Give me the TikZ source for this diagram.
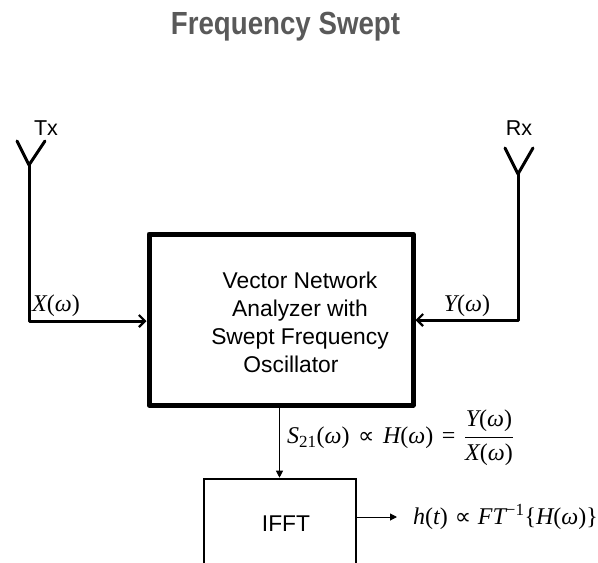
\documentclass[tikz,border=0pt]{standalone}
\usepackage{fontspec}
\usepackage{graphicx}
\setmainfont{Liberation Sans}
\newfontfamily\eqit{Liberation Serif}[UprightFont=*,ItalicFont=* Italic]
\newcommand{\mv}[1]{\mbox{\eqit\itshape #1}}
\newcommand{\mr}[1]{\mbox{\eqit #1}}
\newfontfamily\eqsym{DejaVu Sans}
\newcommand{\om}{\mv{ω}}
\newcommand{\prp}{\mathrel{\mbox{\eqsym\scalebox{0.95}{∝}}}}
\newcommand{\smalleq}[1]{\mbox{\fontsize{17}{17}\eqit #1}}
\definecolor{titlegray}{HTML}{595959}
\usetikzlibrary{arrows.meta}
\tikzset{
  wire/.style={line width=3pt,line cap=round,line join=round},
  inwire/.style={wire,-{Straight Barb[length=6pt,width=12pt,line width=2.2pt]}},
  thinarrow/.style={line width=1pt,-{Triangle[length=7pt,width=7pt]}},
  vna/.style={draw,line width=5pt,line join=round,minimum width=264pt,minimum height=171pt,inner sep=0pt},
  ifftbox/.style={draw,line width=2.6pt,minimum width=152pt,minimum height=120pt,inner sep=0pt},
  label/.style={inner sep=0pt,font=\fontsize{22.8}{28}\selectfont},
  smalllabel/.style={inner sep=0pt,font=\fontsize{21.5}{24}\selectfont},
  mathlabel/.style={inner sep=0pt,font=\fontsize{24}{28}\selectfont}
}
\begin{document}
\begin{tikzpicture}[x=1pt,y=-1pt]
\useasboundingbox (0,0) rectangle (598,563);
\clip (0,0) rectangle (598,563);
\node[inner sep=0pt,text=titlegray] (title) at (285.5,27) {\scalebox{0.865}[1]{\fontsize{32}{38}\selectfont\bfseries Frequency Swept}};
\node[vna] (box) at (281,319.5) {};
\node[ifftbox] (ifft) at (280,539) {};
\coordinate (txbase) at (29,165);
\coordinate (txl) at (17,141);
\coordinate (txr) at (45,141);
\coordinate (txcorner) at (29,321);
\coordinate (rxbase) at (518,174);
\coordinate (rxl) at (505,148);
\coordinate (rxr) at (533,148);
\coordinate (rxcorner) at (518,320);
\draw[wire] (txl) -- (txbase) -- (txr);
\draw[wire] (rxl) -- (rxbase) -- (rxr);
\draw[inwire] (txbase) -- (txcorner) -- (box.west |- txcorner);
\draw[inwire] (rxbase) -- (rxcorner) -- (box.east |- rxcorner);
\node[smalllabel] (tx) at (46,128) {Tx};
\node[smalllabel] (rx) at (519,128) {Rx};
\node[mathlabel] (xw) at (56,306) {$\mv{X}\mr{(}\om\mr{)}$};
\node[mathlabel] (yw) at (467,306) {$\mv{Y}\mr{(}\om\mr{)}$};
\node[label,align=center] (vnatext) at (300,322) {Vector Network\\Analyzer with\\Swept Frequency\\\hspace*{-18pt}Oscillator};
\node[label] (iffttext) at (286,524) {IFFT};
\coordinate (sout) at (279.5,405);
\draw[thinarrow] (sout) -- (sout |- ifft.north);
\node[mathlabel,anchor=west] (sf) at (287,438) {$\mv{S}_{\smalleq{21}}\mr{(}\om\mr{)}\mkern1.2mu\prp\mkern1.2mu\mv{H}\mr{(}\om\mr{)}\mkern1.2mu\mathrel{\mr{=}}\mkern1.2mu\displaystyle\frac{\mv{Y}\mr{(}\om\mr{)}}{\mv{X}\mr{(}\om\mr{)}}$};
\node[mathlabel,anchor=west] (ht) at (413,517) {$\mv{h}\mr{(}\mv{t}\mr{)}\prp\mv{FT}^{\smalleq{−1}}\mr{\{}\mv{H}\mr{(}\om\mr{)\}}$};
\coordinate (htend) at (397,517);
\draw[thinarrow] (ifft.east |- htend) -- (htend);
\end{tikzpicture}
\end{document}
